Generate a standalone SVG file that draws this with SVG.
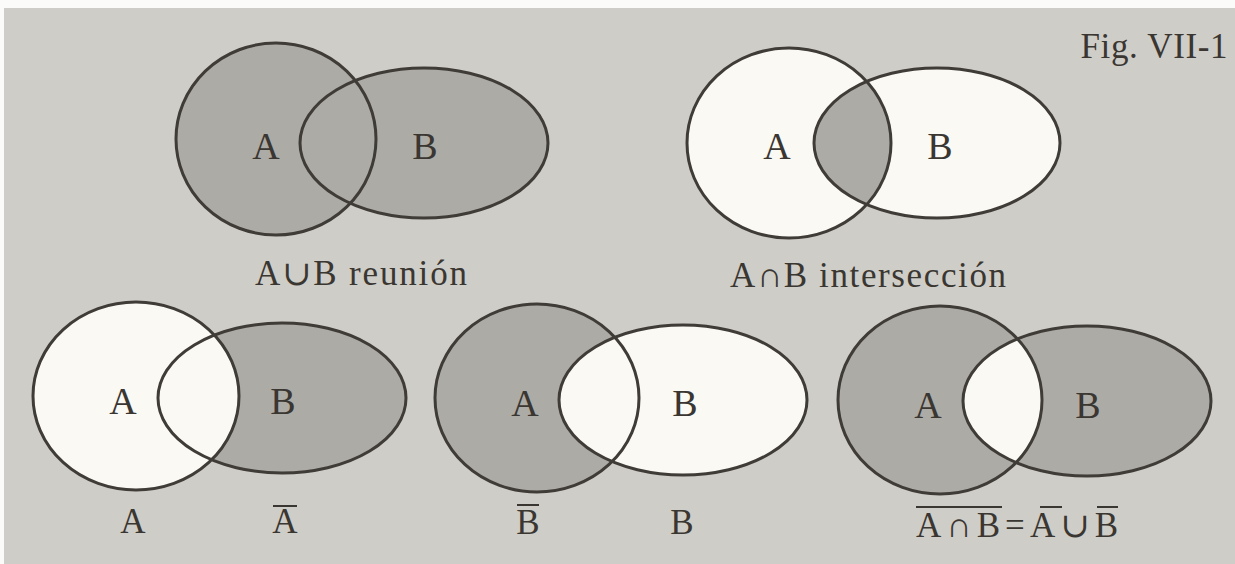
<svg xmlns="http://www.w3.org/2000/svg" width="1235" height="564" viewBox="0 0 1235 564">
<style>
.bg{fill:#cfcdc7}
.sh{fill:#adaba6}
.wh{fill:#faf9f4}
.ln{fill:none;stroke:#3f3b36;stroke-width:3}
.lbl{font-family:"Liberation Serif","DejaVu Serif",serif;font-size:38px;fill:#3a3631;text-anchor:middle}
.cap{font-family:"Liberation Serif","DejaVu Serif",serif;font-size:35px;fill:#3a3631;text-anchor:middle}
.ov{stroke:#3a3631;stroke-width:2}
</style>
<defs>
<clipPath id="c2"><ellipse cx="789" cy="143" rx="102" ry="95"/></clipPath>
<clipPath id="c5"><ellipse cx="940" cy="400" rx="102" ry="94"/></clipPath>
</defs>
<rect x="0" y="0" width="1235" height="564" fill="#fbfbf9"/>
<rect class="bg" x="4" y="8" width="1231" height="556"/>

<g id="union">
<ellipse class="sh" cx="276" cy="139" rx="100" ry="96"/>
<ellipse class="sh" cx="424" cy="143" rx="124" ry="75"/>
<ellipse class="ln" cx="276" cy="139" rx="100" ry="96"/>
<ellipse class="ln" cx="424" cy="143" rx="124" ry="75"/>
<text class="lbl" x="266" y="159">A</text>
<text class="lbl" x="425" y="159">B</text>
<text class="cap" x="361" y="285" textLength="212" lengthAdjust="spacing">A∪B reunión</text>
</g>

<g id="intersection">
<ellipse class="wh" cx="789" cy="143" rx="102" ry="95"/>
<ellipse class="wh" cx="937" cy="143" rx="123" ry="75"/>
<ellipse class="sh" cx="937" cy="143" rx="123" ry="75" clip-path="url(#c2)"/>
<ellipse class="ln" cx="789" cy="143" rx="102" ry="95"/>
<ellipse class="ln" cx="937" cy="143" rx="123" ry="75"/>
<text class="lbl" x="777" y="159">A</text>
<text class="lbl" x="940" y="159">B</text>
<text class="cap" x="868" y="287" textLength="276" lengthAdjust="spacing">A∩B intersección</text>
</g>

<text id="figlabel" class="cap" x="1154" y="58" textLength="147" lengthAdjust="spacing">Fig. VII-1</text>

<g id="setA">
<ellipse class="sh" cx="282" cy="398" rx="124" ry="75"/>
<ellipse class="wh" cx="136" cy="396" rx="103" ry="94"/>
<ellipse class="ln" cx="136" cy="396" rx="103" ry="94"/>
<ellipse class="ln" cx="282" cy="398" rx="124" ry="75"/>
<text class="lbl" x="123" y="414">A</text>
<text class="lbl" x="283" y="414">B</text>
<text class="cap" x="133" y="533">A</text>
<text class="cap" x="285" y="533">A</text>
<line class="ov" x1="273" y1="506" x2="297" y2="506"/>
</g>

<g id="setB">
<ellipse class="sh" cx="537" cy="398" rx="102" ry="94"/>
<ellipse class="wh" cx="683" cy="400" rx="124" ry="75"/>
<ellipse class="ln" cx="537" cy="398" rx="102" ry="94"/>
<ellipse class="ln" cx="683" cy="400" rx="124" ry="75"/>
<text class="lbl" x="525" y="416">A</text>
<text class="lbl" x="685" y="416">B</text>
<text class="cap" x="528" y="534">B</text>
<line class="ov" x1="517" y1="505" x2="539" y2="505"/>
<text class="cap" x="682" y="534">B</text>
</g>

<g id="demorgan">
<ellipse class="sh" cx="940" cy="400" rx="102" ry="94"/>
<ellipse class="sh" cx="1087" cy="401" rx="124" ry="75"/>
<ellipse class="wh" cx="1087" cy="401" rx="124" ry="75" clip-path="url(#c5)"/>
<ellipse class="ln" cx="940" cy="400" rx="102" ry="94"/>
<ellipse class="ln" cx="1087" cy="401" rx="124" ry="75"/>
<text class="lbl" x="928" y="418">A</text>
<text class="lbl" x="1088" y="418">B</text>
<text class="cap" x="1017" y="537" textLength="202" lengthAdjust="spacing">A∩B=A∪B</text>
<line class="ov" x1="916" y1="507" x2="1002" y2="507"/>
<line class="ov" x1="1040" y1="507" x2="1062" y2="507"/>
<line class="ov" x1="1097" y1="507" x2="1118" y2="507"/>
</g>
</svg>
